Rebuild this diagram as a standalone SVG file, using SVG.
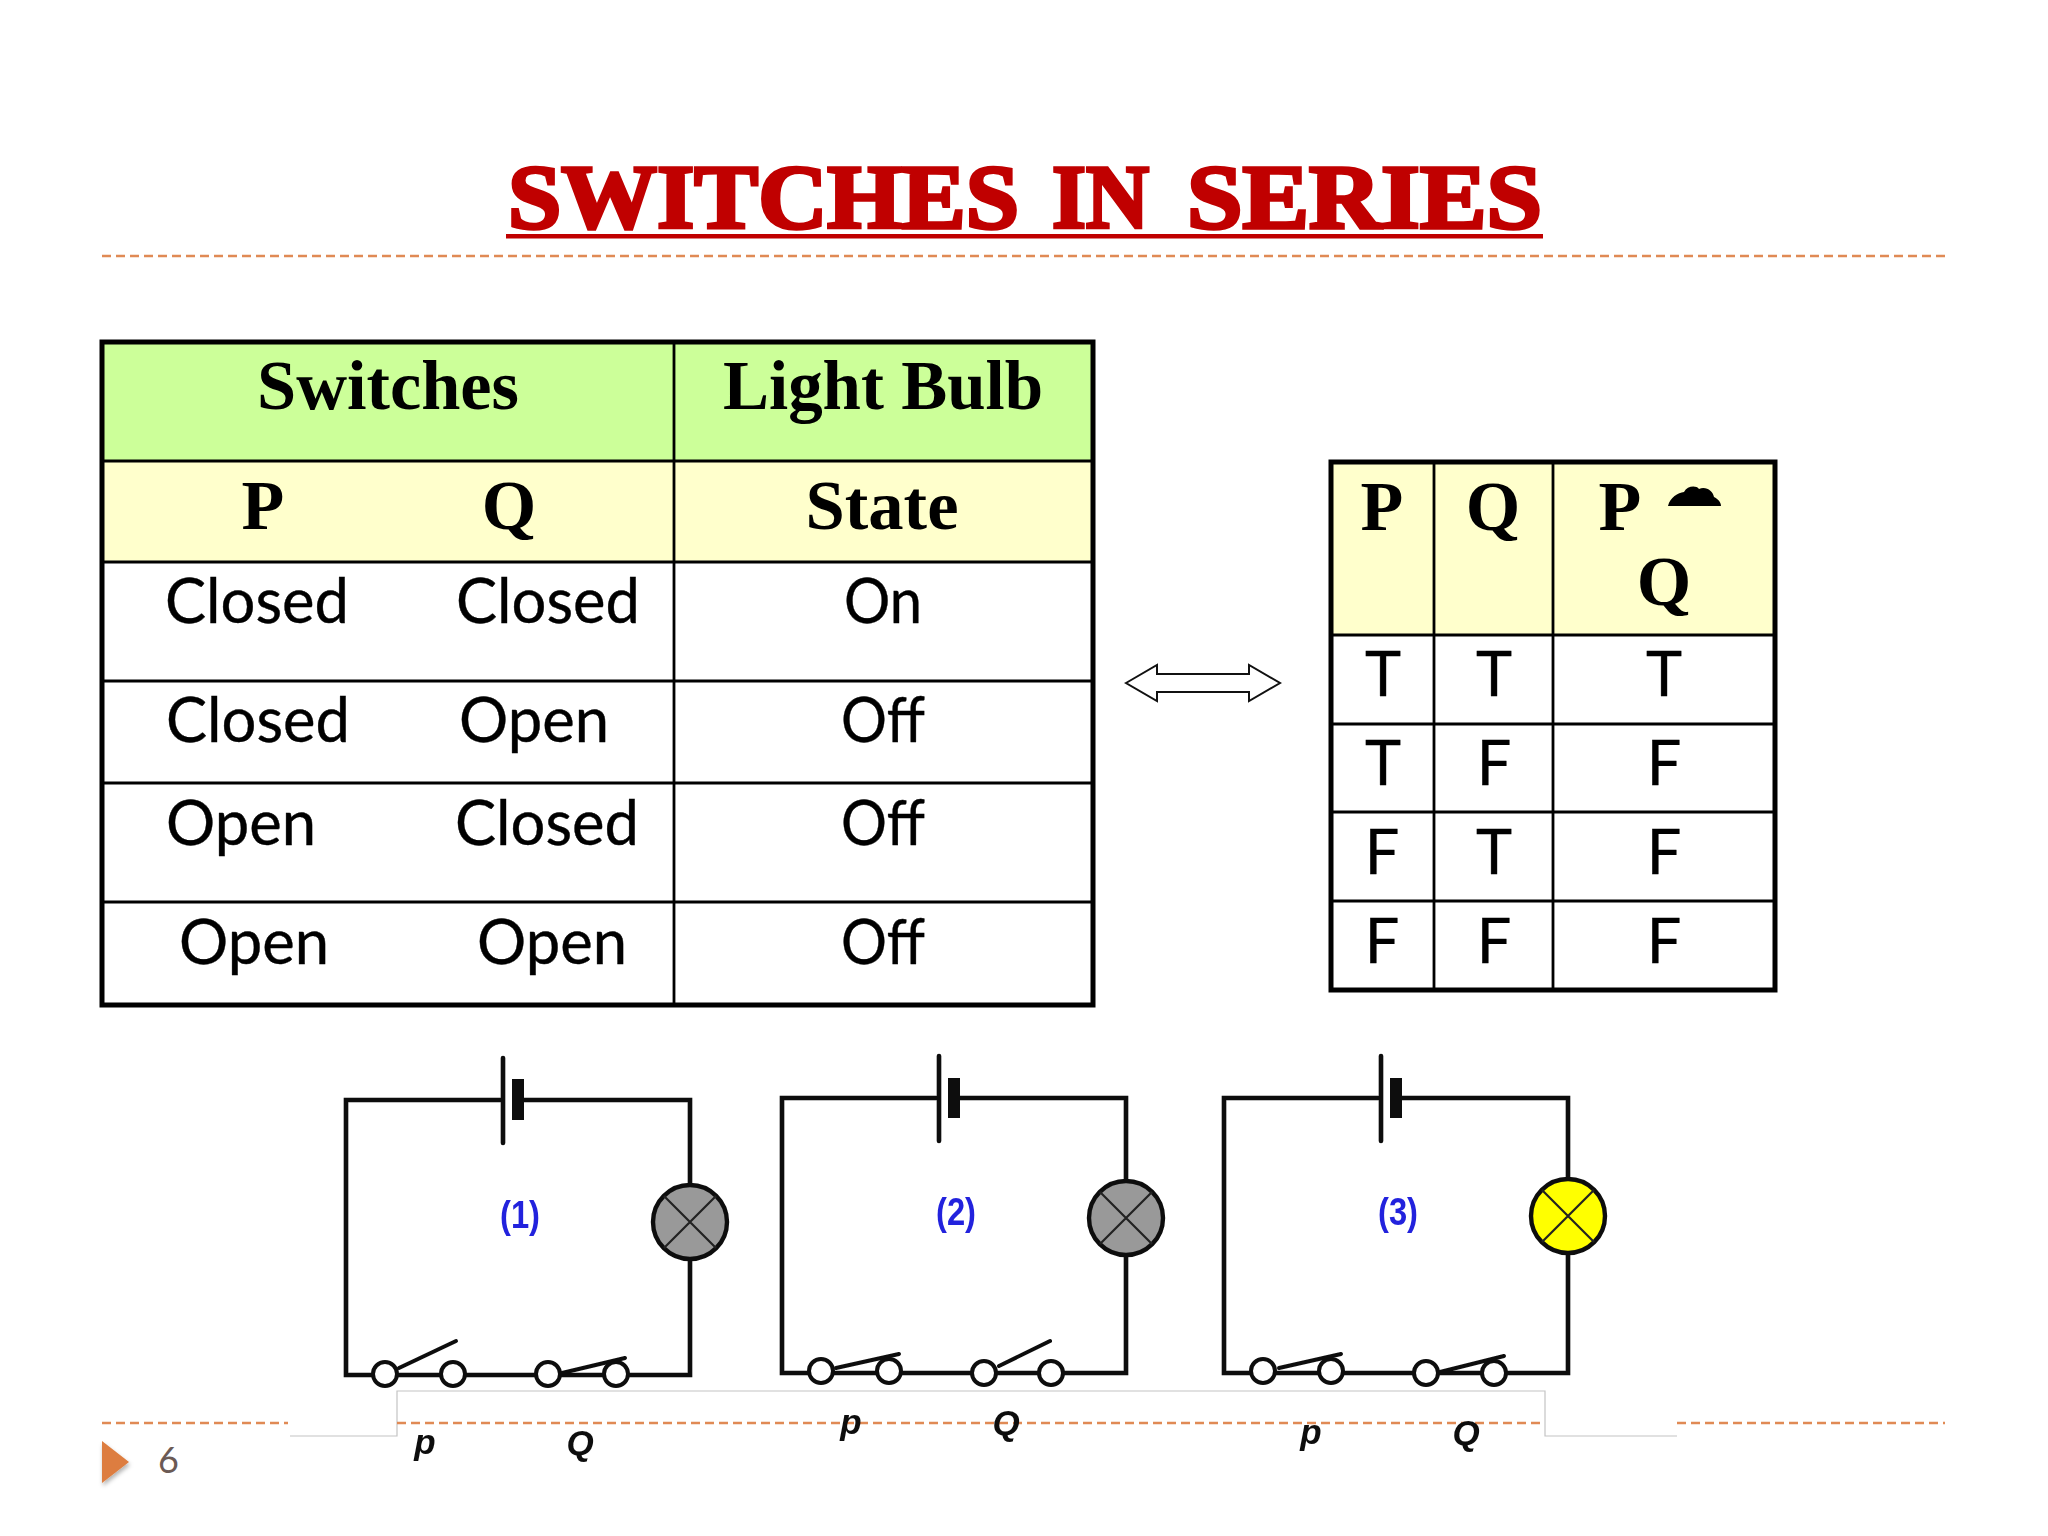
<svg xmlns="http://www.w3.org/2000/svg" width="2048" height="1536" viewBox="0 0 2048 1536">
<style>
.dash{stroke:#e08a55;stroke-width:2.5;stroke-dasharray:9 5;fill:none}
.outer{fill:none;stroke:#000;stroke-width:5}
.grid{stroke:#000;stroke-width:2.8;fill:none}
.ttl{font-family:"Liberation Serif",serif;font-weight:700;font-size:90px;fill:#c00000;stroke:#c00000;stroke-width:3.5}
.hd{font-family:"Liberation Serif",serif;font-weight:700;font-size:70px;fill:#000;text-anchor:middle}
.bd{font-family:"Lato","Liberation Sans",sans-serif;font-size:61px;fill:#000;stroke:#000;stroke-width:0.4}
.c{text-anchor:middle}
.circ{filter:url(#soft)}
.wire{fill:none;stroke:#111;stroke-width:4.6}
.plate{stroke:#111;stroke-width:4.6;stroke-linecap:round}
.cross{stroke:#222;stroke-width:2.2}
.sw{fill:#fff;stroke:#111;stroke-width:4}
.blade{stroke:#111;stroke-width:4;stroke-linecap:round}
.lamp{stroke:#111;stroke-width:4.4}
.num{font-family:"Liberation Sans",sans-serif;font-weight:700;font-size:38px;fill:#2222dd;text-anchor:middle}
.lab{font-family:"Liberation Sans",sans-serif;font-weight:700;font-style:italic;font-size:35px;fill:#111;text-anchor:middle}
</style>
<defs>
<filter id="sh" x="-30%" y="-30%" width="170%" height="170%"><feDropShadow dx="1" dy="3" stdDeviation="2" flood-color="#000" flood-opacity="0.3"/></filter>
<filter id="soft" x="-5%" y="-5%" width="110%" height="110%"><feGaussianBlur stdDeviation="0.6"/></filter>
</defs>
<rect width="2048" height="1536" fill="#fff"/>

<g id="title">
<text class="ttl" x="508" y="228" textLength="511" lengthAdjust="spacingAndGlyphs">SWITCHES</text>
<text class="ttl" x="1052" y="228" textLength="97" lengthAdjust="spacingAndGlyphs">IN</text>
<text class="ttl" x="1187" y="228" textLength="355" lengthAdjust="spacingAndGlyphs">SERIES</text>
<rect x="506" y="234" width="1037" height="4.5" fill="#c00000"/>
</g>
<line id="rule-top" class="dash" x1="102" y1="256" x2="1945" y2="256"/>

<g id="table-switches">
<rect x="102" y="342" width="572" height="119" fill="#ccff99"/><rect x="674" y="342" width="419" height="119" fill="#ccff99"/>
<rect x="102" y="461" width="991" height="101" fill="#ffffcc"/>
<path class="grid" d="M102 461H1093M102 562H1093M102 681H1093M102 783H1093M102 902H1093M674 342V1004"/>
<rect class="outer" x="102" y="342" width="991" height="663"/>
<text class="hd" x="388" y="409" textLength="262" lengthAdjust="spacingAndGlyphs">Switches</text>
<text class="hd" x="883" y="409" textLength="320" lengthAdjust="spacingAndGlyphs">Light Bulb</text>
<text class="hd" x="263" y="529">P</text>
<text class="hd" x="509" y="529">Q</text>
<text class="hd" x="882" y="529" textLength="153" lengthAdjust="spacingAndGlyphs">State</text>
<text class="bd" x="165" y="623" textLength="184" lengthAdjust="spacingAndGlyphs">Closed</text>
<text class="bd" x="456" y="623" textLength="184" lengthAdjust="spacingAndGlyphs">Closed</text>
<text class="bd c" x="883" y="623" textLength="78" lengthAdjust="spacingAndGlyphs">On</text>
<text class="bd" x="166" y="742" textLength="184" lengthAdjust="spacingAndGlyphs">Closed</text>
<text class="bd" x="459" y="742" textLength="150" lengthAdjust="spacingAndGlyphs">Open</text>
<text class="bd c" x="883" y="742" textLength="84" lengthAdjust="spacingAndGlyphs">Off</text>
<text class="bd" x="166" y="845" textLength="150" lengthAdjust="spacingAndGlyphs">Open</text>
<text class="bd" x="455" y="845" textLength="184" lengthAdjust="spacingAndGlyphs">Closed</text>
<text class="bd c" x="883" y="845" textLength="84" lengthAdjust="spacingAndGlyphs">Off</text>
<text class="bd" x="179" y="964" textLength="150" lengthAdjust="spacingAndGlyphs">Open</text>
<text class="bd" x="477" y="964" textLength="150" lengthAdjust="spacingAndGlyphs">Open</text>
<text class="bd c" x="883" y="964" textLength="84" lengthAdjust="spacingAndGlyphs">Off</text>
</g>

<g id="double-arrow">
<path d="M1126 683L1157 665V674H1249V665L1280 683L1249 701V692H1157V701Z" fill="#fff" stroke="#111" stroke-width="2"/>
</g>

<g id="table-truth">
<rect x="1331" y="462" width="444" height="173" fill="#ffffcc"/>
<path class="grid" d="M1331 635H1775M1331 724H1775M1331 812H1775M1331 901H1775M1434 462V990M1553 462V990"/>
<rect class="outer" x="1331" y="462" width="444" height="528"/>
<text class="hd" x="1382" y="530">P</text>
<text class="hd" x="1493" y="530">Q</text>
<text class="hd" x="1620" y="530">P</text>
<path d="M1668 506C1670 497 1678 493 1684 492C1687 486 1696 485 1699 489C1706 486 1713 491 1714 497C1718 499 1721 502 1721 506Z" fill="#000"/>
<text class="hd" x="1664" y="605">Q</text>
<text class="bd c" x="1383" y="696">T</text><text class="bd c" x="1494" y="696">T</text><text class="bd c" x="1664" y="696">T</text>
<text class="bd c" x="1383" y="785">T</text><text class="bd c" x="1494" y="785">F</text><text class="bd c" x="1664" y="785">F</text>
<text class="bd c" x="1382" y="874">F</text><text class="bd c" x="1494" y="874">T</text><text class="bd c" x="1664" y="874">F</text>
<text class="bd c" x="1382" y="963">F</text><text class="bd c" x="1494" y="963">F</text><text class="bd c" x="1664" y="963">F</text>
</g>

<g id="footer">
<path d="M290 1436H397V1391H1545V1436H1677" fill="none" stroke="#c4c4c4" stroke-width="1.2"/>
<line class="dash" x1="102" y1="1423" x2="288" y2="1423"/>
<line class="dash" x1="397" y1="1423" x2="1545" y2="1423"/>
<line class="dash" x1="1677" y1="1423" x2="1945" y2="1423"/>
<path d="M102 1441L129 1462L102 1483Z" fill="#dd7d3f" filter="url(#sh)"/>
<text x="158" y="1473" font-family="Lato,'Liberation Sans',sans-serif" font-size="36" fill="#6b5a55">6</text>
</g>

<g id="circuit-1" class="circ">
<path class="wire" d="M503 1100H346V1375H373M397 1375H441M465 1375H536M560 1375H604M628 1375H690V1100H518"/>
<line class="plate" x1="503" y1="1058" x2="503" y2="1143"/>
<rect x="512" y="1079" width="12" height="41" fill="#111"/>
<circle class="lamp" cx="690" cy="1222" r="37" fill="#999"/>
<path class="cross" d="M664 1196L716 1248M716 1196L664 1248"/>
<circle class="sw" cx="385" cy="1374" r="12"/><circle class="sw" cx="453" cy="1374" r="12"/><circle class="sw" cx="548" cy="1374" r="12"/><circle class="sw" cx="616" cy="1374" r="12"/>
<line class="blade" x1="399" y1="1368" x2="456" y2="1341"/>
<line class="blade" x1="562" y1="1373" x2="625" y2="1358"/>
<text class="num" x="520" y="1228" textLength="40" lengthAdjust="spacingAndGlyphs">(1)</text>
<text class="lab" x="425" y="1454">p</text>
<text class="lab" x="580" y="1455">Q</text>
</g>

<g id="circuit-2" class="circ">
<path class="wire" d="M939 1098H782V1373H809M833 1373H877M901 1373H972M996 1373H1039M1063 1373H1126V1098H954"/>
<line class="plate" x1="939" y1="1056" x2="939" y2="1141"/>
<rect x="948" y="1078" width="12" height="40" fill="#111"/>
<circle class="lamp" cx="1126" cy="1218" r="37" fill="#999"/>
<path class="cross" d="M1100 1192L1152 1244M1152 1192L1100 1244"/>
<circle class="sw" cx="821" cy="1371" r="12"/><circle class="sw" cx="889" cy="1371" r="12"/><circle class="sw" cx="984" cy="1373" r="12"/><circle class="sw" cx="1051" cy="1373" r="12"/>
<line class="blade" x1="836" y1="1368" x2="899" y2="1354"/>
<line class="blade" x1="999" y1="1366" x2="1050" y2="1341"/>
<text class="num" x="956" y="1225" textLength="40" lengthAdjust="spacingAndGlyphs">(2)</text>
<text class="lab" x="851" y="1434">p</text>
<text class="lab" x="1006" y="1435">Q</text>
</g>

<g id="circuit-3" class="circ">
<path class="wire" d="M1381 1098H1224V1373H1251M1275 1373H1319M1343 1373H1414M1438 1373H1482M1506 1373H1568V1098H1396"/>
<line class="plate" x1="1381" y1="1056" x2="1381" y2="1141"/>
<rect x="1390" y="1078" width="12" height="40" fill="#111"/>
<circle class="lamp" cx="1568" cy="1216" r="37" fill="#ffff00"/>
<path class="cross" d="M1542 1190L1594 1242M1594 1190L1542 1242"/>
<circle class="sw" cx="1263" cy="1371" r="12"/><circle class="sw" cx="1331" cy="1371" r="12"/><circle class="sw" cx="1426" cy="1373" r="12"/><circle class="sw" cx="1494" cy="1373" r="12"/>
<line class="blade" x1="1279" y1="1368" x2="1341" y2="1354"/>
<line class="blade" x1="1440" y1="1372" x2="1504" y2="1356"/>
<text class="num" x="1398" y="1225" textLength="40" lengthAdjust="spacingAndGlyphs">(3)</text>
<text class="lab" x="1311" y="1444">p</text>
<text class="lab" x="1466" y="1445">Q</text>
</g>
</svg>
